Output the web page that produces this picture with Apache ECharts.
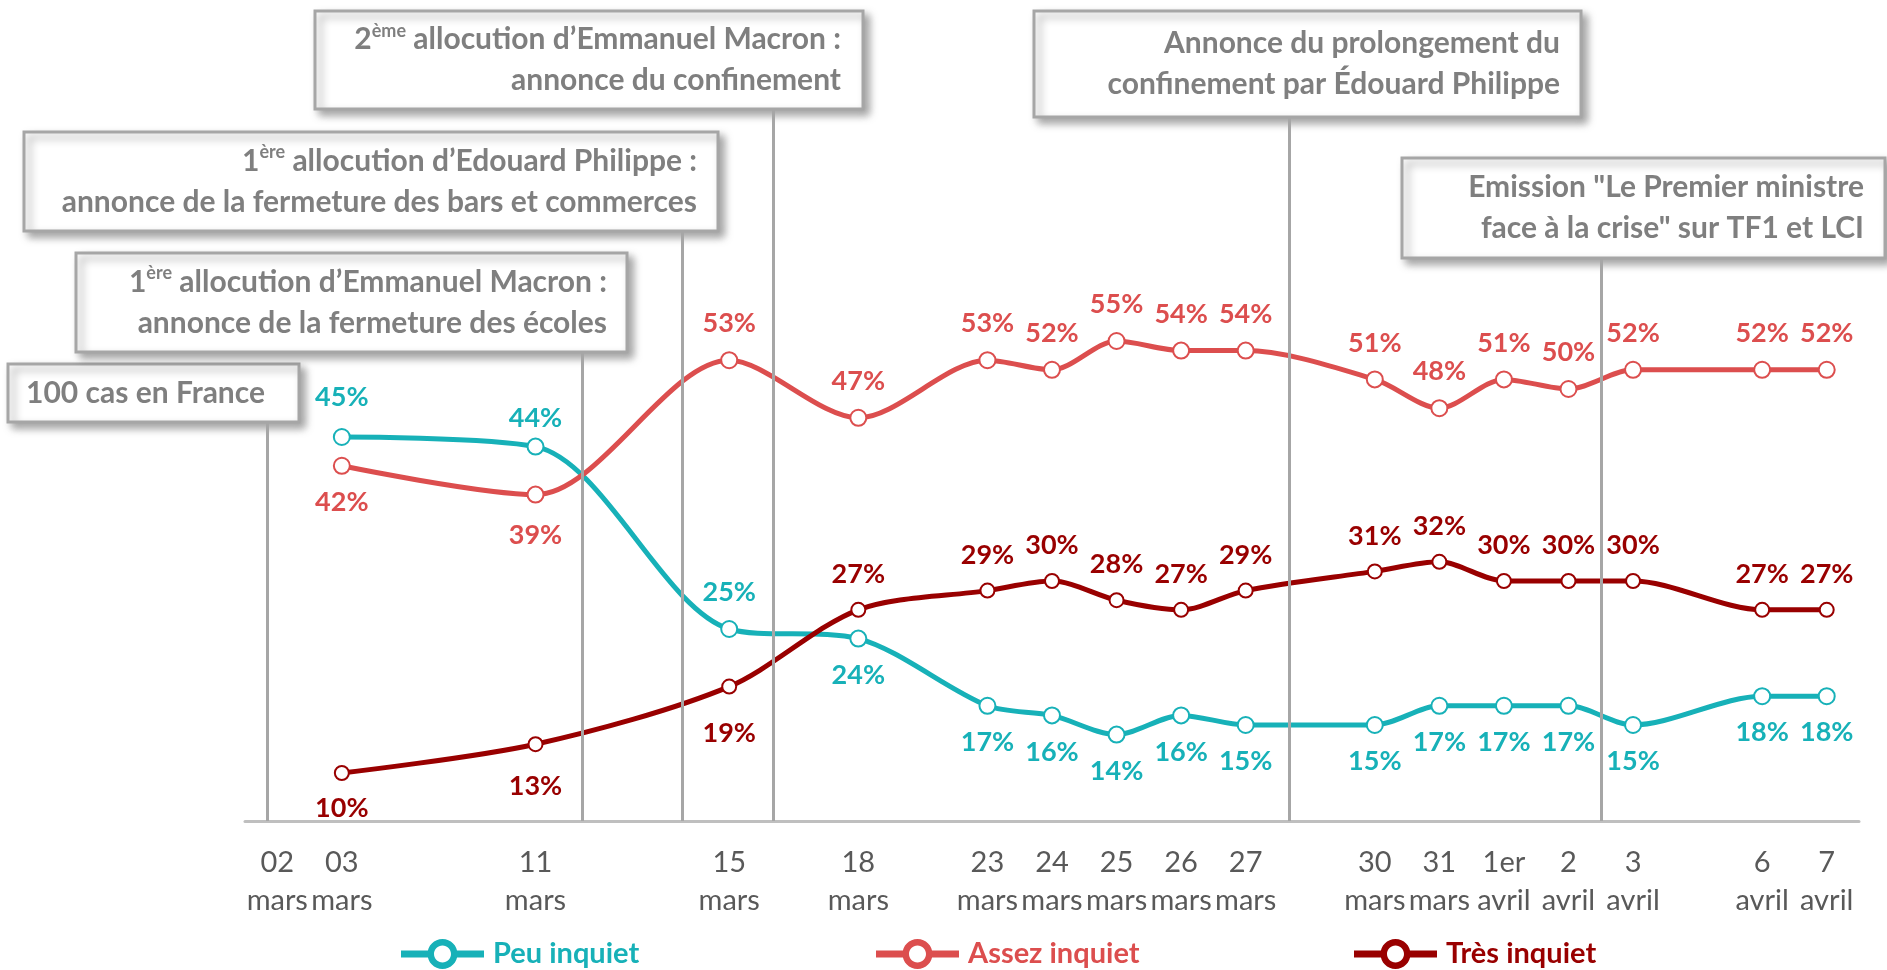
<!DOCTYPE html>
<html>
<head>
<meta charset="utf-8">
<script src="https://cdn.jsdelivr.net/npm/echarts@6/dist/echarts.min.js"></script>
<style>
  html, body { margin: 0; padding: 0; background: #fff; }
  #chart { width: 1887px; height: 970px; }
</style>
</head>
<body>
<div id="chart"></div>
<script>
// slots of the x axis (empty strings are days without a survey)
const categories = ['02\nmars', '03\nmars', '', '', '11\nmars', '', '', '15\nmars', '', '18\nmars', '',
  '23\nmars', '24\nmars', '25\nmars', '26\nmars', '27\nmars', '', '30\nmars', '31\nmars',
  '1er\navril', '2\navril', '3\navril', '', '6\navril', '7\navril'];

const peuInquiet = [null, 45, null, null, 44, null, null, 25, null, 24, null, 17, 16, 14, 16, 15, null, 15, 17, 17, 17, 15, null, 18, 18];
const assezInquiet = [null, 42, null, null, 39, null, null, 53, null, 47, null, 53, 52, 55, 54, 54, null, 51, 48, 51, 50, 52, null, 52, 52];
const tresInquiet = [null, 10, null, null, 13, null, null, 19, null, 27, null, 29, 30, 28, 27, 29, null, 31, 32, 30, 30, 30, null, 27, 27];

// event markers: position on the slot scale and text of the box
const eventX = [-0.15, 4.72, 6.28, 7.69, 15.67, 20.5];
const eventTop = [46.6, 53.9, 66.5, 79.2, 78.3, 63.6];
const eventText = [
  '100 cas en France',
  '1{s|ère} allocution d’Emmanuel Macron :\nannonce de la fermeture des écoles',
  '1{s|ère} allocution d’Edouard Philippe :\nannonce de la fermeture des bars et commerces',
  '2{s|ème} allocution d’Emmanuel Macron :\nannonce du confinement',
  'Annonce du prolongement du\nconfinement par Édouard Philippe',
  'Emission "Le Premier ministre\nface à la crise" sur TF1 et LCI'
];
// box layout [left, top, width, height, right padding]
const eventBox = [
  [8, 364, 291, 58, 34],
  [76, 253, 551, 99, 20],
  [24, 132, 694, 99, 21],
  [315, 11, 548, 98, 22],
  [1034, 11, 547, 106, 21],
  [1402, 158, 483, 100, 21]
];

const COLORS = { peu: '#17B1B8', assez: '#DC4E4E', tres: '#990000' };
const FONT = 'Lato, "Open Sans", sans-serif';

// legend icon: short line, ring (outer clockwise, inner counter-clockwise), short line
const LEGEND_ICON = 'path://M0,11.5L27,11.5L27,18.5L0,18.5Z M56,11.5L83,11.5L83,18.5L56,18.5Z ' +
  'M26.5,15C26.5,6.716 33.216,0 41.5,0C49.784,0 56.5,6.716 56.5,15C56.5,23.284 49.784,30 41.5,30C33.216,30 26.5,23.284 26.5,15Z ' +
  'M33,15C33,19.695 36.805,23.5 41.5,23.5C46.195,23.5 50,19.695 50,15C50,10.305 46.195,6.5 41.5,6.5C36.805,6.5 33,10.305 33,15Z';

function buildData(values, posFn, nudge) {
  return values.map((v, i) => {
    if (v == null) return null;
    return {
      value: v,
      label: { position: posFn(i), distance: 14 + (nudge[i] || 0) }
    };
  });
}

function lineSeries(name, values, color, posFn, nudge, symbolSize) {
  return {
    name: name,
    type: 'line',
    smooth: 0.3,
    connectNulls: true,
    symbol: 'emptyCircle',
    symbolSize: symbolSize,
    data: buildData(values, posFn, nudge),
    lineStyle: { color: color, width: 5 },
    itemStyle: { color: color, borderWidth: 3 },
    label: {
      show: true,
      formatter: '{c}%',
      color: color,
      fontFamily: FONT,
      fontWeight: 'bold',
      fontSize: 27
    },
    emphasis: { disabled: true },
    z: 3
  };
}

function legendFor(name, color, left) {
  return {
    left: left,
    top: 939,
    padding: 0,
    itemWidth: 83,
    itemHeight: 30,
    selectedMode: false,
    textStyle: { fontFamily: FONT, fontWeight: 'bold', fontSize: 29, color: color, padding: [0, 0, 0, 4] },
    data: [{ name: name, icon: LEGEND_ICON, itemStyle: { color: color, borderWidth: 0 } }]
  };
}

const chart = echarts.init(document.getElementById('chart'));

const boxes = eventBox.map((b, i) => ({
  type: 'group',
  z: 10,
  children: [
    {
      type: 'rect',
      shape: { x: b[0], y: b[1], width: b[2], height: b[3] },
      style: {
        fill: '#fff',
        stroke: '#A6A6A6',
        lineWidth: 3,
        shadowBlur: 8,
        shadowOffsetX: 5,
        shadowOffsetY: 5,
        shadowColor: 'rgba(0,0,0,0.35)'
      }
    },
    {
      type: 'text',
      style: {
        text: eventText[i],
        x: b[0] + b[2] - b[4],
        y: b[1] + b[3] / 2,
        align: 'right',
        verticalAlign: 'middle',
        fill: '#7F7F7F',
        fontFamily: FONT,
        fontWeight: 'bold',
        fontSize: 30,
        lineHeight: 41,
        rich: {
          s: { fontSize: 18, fontFamily: FONT, fontWeight: 'bold', fill: '#7F7F7F', verticalAlign: 'top', padding: [3, 0, 0, 0] }
        }
      }
    }
  ]
}));

chart.setOption({
  animation: false,
  grid: { left: 245, right: 28, top: 53, bottom: 149 },
  legend: [
    legendFor('Peu inquiet', COLORS.peu, 401),
    legendFor('Assez inquiet', COLORS.assez, 876),
    legendFor('Très inquiet', COLORS.tres, 1354)
  ],
  xAxis: [
    {
      type: 'category',
      data: categories,
      boundaryGap: true,
      axisLine: { lineStyle: { color: '#BFBFBF', width: 3 } },
      axisTick: { show: false },
      axisLabel: {
        interval: 0,
        color: '#595959',
        fontFamily: FONT,
        fontSize: 29,
        lineHeight: 38,
        margin: 23
      },
      splitLine: { show: false }
    },
    { type: 'value', min: -0.5, max: 24.5, show: false }
  ],
  yAxis: {
    type: 'value',
    min: 5,
    max: 85,
    show: false,
    splitLine: { show: false }
  },
  graphic: { elements: boxes },
  series: [
    {
      type: 'line',
      xAxisIndex: 1,
      data: [],
      silent: true,
      markLine: {
        silent: true,
        symbol: 'none',
        label: { show: false },
        lineStyle: { color: '#A6A6A6', width: 3, type: 'solid' },
        data: eventX.map((x, i) => [{ coord: [x, eventTop[i]] }, { coord: [x, 5] }])
      },
      z: 1
    },
    lineSeries('Peu inquiet', peuInquiet, COLORS.peu, i => (i <= 4 || i === 7 ? 'top' : 'bottom'), { 1: 3, 4: -8 }, 16),
    lineSeries('Assez inquiet', assezInquiet, COLORS.assez, i => (i <= 4 ? 'bottom' : 'top'), { 4: 4 }, 16),
    lineSeries('Très inquiet', tresInquiet, COLORS.tres, i => (i <= 7 ? 'bottom' : 'top'), { 4: 7, 7: 11 }, 14)
  ]
});
</script>
</body>
</html>
